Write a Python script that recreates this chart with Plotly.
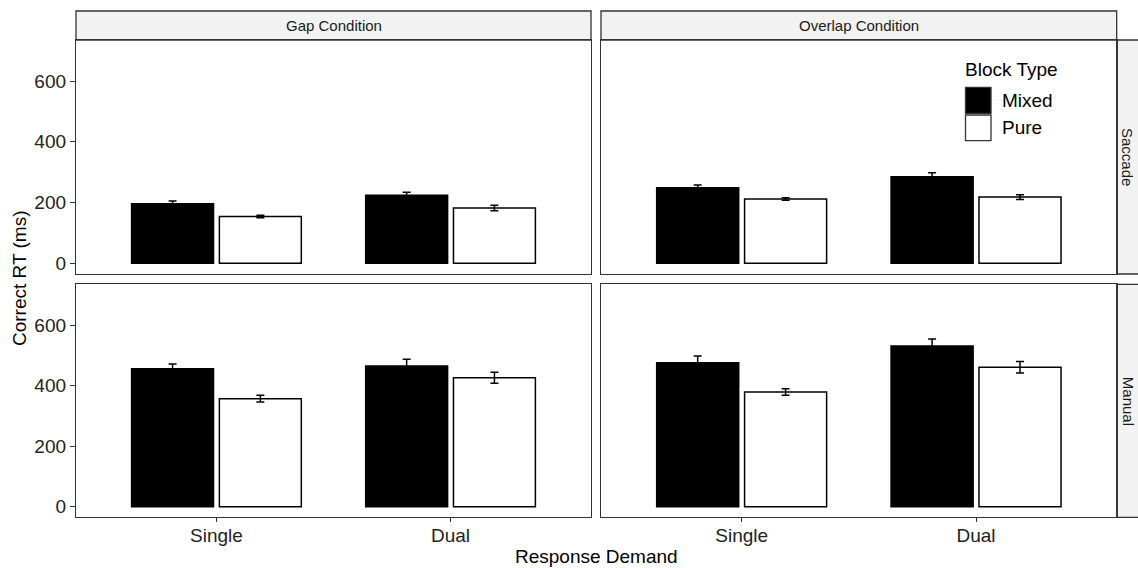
import plotly.graph_objects as go

# ---------------- data ----------------
categories = ["Single", "Dual"]
conditions = ["Gap Condition", "Overlap Condition"]
responses = ["Saccade", "Manual"]
block_types = ["Mixed", "Pure"]
y_ticks = [0, 200, 400, 600]

saccade_gap_mixed = [196, 224]
saccade_gap_mixed_err = [9, 10]
saccade_gap_pure = [154, 182]
saccade_gap_pure_err = [4, 9]

saccade_overlap_mixed = [249, 285]
saccade_overlap_mixed_err = [9, 13]
saccade_overlap_pure = [212, 218]
saccade_overlap_pure_err = [4, 8]

manual_gap_mixed = [456, 465]
manual_gap_mixed_err = [16, 22]
manual_gap_pure = [357, 426]
manual_gap_pure_err = [11, 18]

manual_overlap_mixed = [476, 531]
manual_overlap_mixed_err = [22, 23]
manual_overlap_pure = [379, 461]
manual_overlap_pure_err = [11, 19]

panels = {
    ("Saccade", "Gap Condition"): (saccade_gap_mixed, saccade_gap_mixed_err, saccade_gap_pure, saccade_gap_pure_err),
    ("Saccade", "Overlap Condition"): (saccade_overlap_mixed, saccade_overlap_mixed_err, saccade_overlap_pure, saccade_overlap_pure_err),
    ("Manual", "Gap Condition"): (manual_gap_mixed, manual_gap_mixed_err, manual_gap_pure, manual_gap_pure_err),
    ("Manual", "Overlap Condition"): (manual_overlap_mixed, manual_overlap_mixed_err, manual_overlap_pure, manual_overlap_pure_err),
}

# ---------------- layout geometry (window pixels) ----------------
W, H = 1138, 568
FONT = "Liberation Sans, Arial, sans-serif"
LINE = "#333333"
col_px = [(76, 591), (601, 1116.7)]
row_px = [(40, 274), (284.3, 517.3)]
strip_top = (11, 40)
strip_right = (1116.7, 1150)
TICK_SIZE = 19
TITLE_SIZE = 19
STRIP_SIZE = 15


def px_x(v):
    return v / W


def px_y(v):
    return (H - v) / H


fig = go.Figure()
layout_axes = {}
fill_colors = {"Mixed": "black", "Pure": "white"}

for r, resp in enumerate(responses):
    for c, cond in enumerate(conditions):
        k = r * 2 + c + 1
        xa = "x" if k == 1 else f"x{k}"
        ya = "y" if k == 1 else f"y{k}"
        mixed, mixed_err, pure, pure_err = panels[(resp, cond)]
        for bt, vals, errs in (("Mixed", mixed, mixed_err), ("Pure", pure, pure_err)):
            fig.add_trace(go.Bar(
                x=categories, y=vals, name=bt, xaxis=xa, yaxis=ya,
                offsetgroup=bt, showlegend=False,
                marker=dict(color=fill_colors[bt], line=dict(color="black", width=1.5)),
                error_y=dict(type="data", array=errs, visible=True,
                             color="black", thickness=1.5, width=4),
            ))
        xkey = "xaxis" if k == 1 else f"xaxis{k}"
        ykey = "yaxis" if k == 1 else f"yaxis{k}"
        x0, x1 = col_px[c]
        y0, y1 = row_px[r]
        bottom = r == 1
        left = c == 0
        layout_axes[xkey] = dict(
            domain=[px_x(x0), px_x(x1)], anchor=ya, type="category",
            categoryorder="array", categoryarray=categories,
            range=[-0.6, 1.6], showline=True, mirror=True,
            linecolor=LINE, linewidth=1.3, showgrid=False, zeroline=False,
            ticks="outside" if bottom else "", ticklen=4, tickwidth=1.3,
            tickcolor=LINE, showticklabels=bottom, ticklabelstandoff=-3,
            tickfont=dict(family=FONT, size=TICK_SIZE, color="#222222"),
        )
        layout_axes[ykey] = dict(
            domain=[px_y(y1), px_y(y0)], anchor=xa, range=[-35, 735],
            tickvals=y_ticks, showline=True, mirror=True,
            linecolor=LINE, linewidth=1.3, showgrid=False, zeroline=False,
            ticks="outside" if left else "", ticklen=5, tickwidth=1.3,
            tickcolor=LINE, showticklabels=left,
            tickfont=dict(family=FONT, size=TICK_SIZE, color="#222222"),
        )

shapes = []
annotations = []
# top strips
for c, cond in enumerate(conditions):
    x0, x1 = col_px[c]
    shapes.append(dict(type="rect", xref="paper", yref="paper",
                       x0=px_x(x0), x1=px_x(x1), y0=px_y(strip_top[1]), y1=px_y(strip_top[0]),
                       fillcolor="#F2F2F2", line=dict(color=LINE, width=1.3), layer="below"))
    annotations.append(dict(text=cond, xref="paper", yref="paper",
                            x=px_x((x0 + x1) / 2), y=px_y(sum(strip_top) / 2),
                            showarrow=False, xanchor="center", yanchor="middle",
                            font=dict(family=FONT, size=STRIP_SIZE, color="#1a1a1a")))
# right strips
for r, resp in enumerate(responses):
    y0, y1 = row_px[r]
    shapes.append(dict(type="rect", xref="paper", yref="paper",
                       x0=px_x(strip_right[0]), x1=px_x(strip_right[1]), y0=px_y(y1), y1=px_y(y0),
                       fillcolor="#F2F2F2", line=dict(color=LINE, width=1.3), layer="below"))
    annotations.append(dict(text=resp, xref="paper", yref="paper",
                            x=px_x(1128), y=px_y((y0 + y1) / 2), textangle=90,
                            showarrow=False, xanchor="center", yanchor="middle",
                            font=dict(family=FONT, size=STRIP_SIZE, color="#1a1a1a")))

# axis titles
annotations.append(dict(text="Correct RT (ms)", xref="paper", yref="paper",
                        x=px_x(19), y=px_y(279), textangle=-90, showarrow=False,
                        xanchor="center", yanchor="middle",
                        font=dict(family=FONT, size=TITLE_SIZE, color="black")))
annotations.append(dict(text="Response Demand", xref="paper", yref="paper",
                        x=px_x(596.5), y=px_y(556), showarrow=False,
                        xanchor="center", yanchor="middle",
                        font=dict(family=FONT, size=TITLE_SIZE, color="black")))

# legend (drawn manually to match large key boxes)
annotations.append(dict(text="Block Type", xref="paper", yref="paper",
                        x=px_x(963), y=px_y(70), showarrow=False,
                        xanchor="left", yanchor="middle",
                        font=dict(family=FONT, size=TITLE_SIZE, color="black")))
key_rows = [(87.3, 113.3), (115, 140.7)]
for (ky0, ky1), bt in zip(key_rows, block_types):
    shapes.append(dict(type="rect", xref="paper", yref="paper",
                       x0=px_x(965.5), x1=px_x(991), y0=px_y(ky1), y1=px_y(ky0),
                       fillcolor=fill_colors[bt], line=dict(color="#333333", width=1.3)))
    annotations.append(dict(text=bt, xref="paper", yref="paper",
                            x=px_x(1000), y=px_y((ky0 + ky1) / 2), showarrow=False,
                            xanchor="left", yanchor="middle",
                            font=dict(family=FONT, size=TITLE_SIZE, color="black")))

fig.update_layout(
    width=W, height=H, margin=dict(l=0, r=0, t=0, b=0),
    plot_bgcolor="white", paper_bgcolor="white",
    barmode="group", bargap=0.25, bargroupgap=0.0667,
    showlegend=False, shapes=shapes, annotations=annotations,
    font=dict(family=FONT),
    **layout_axes,
)

fig.write_html(
    "out.html",
    config={"displayModeBar": False},
    post_script="document.body.style.margin='0';document.body.style.overflow='hidden';",
)
